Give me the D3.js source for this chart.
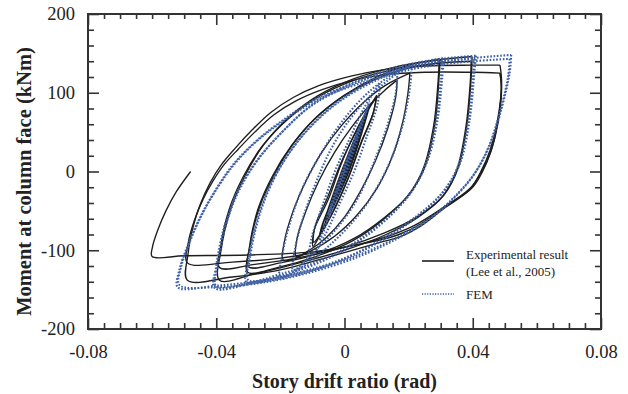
<!DOCTYPE html>
<html>
<head>
<meta charset="utf-8">
<script src="https://cdn.jsdelivr.net/npm/d3@7"></script>
<style>
  body { margin: 0; background: #fff; }
  svg { display: block; }
  text { font-family: "Liberation Serif", "Times New Roman", serif; fill: #222; }
</style>
</head>
<body>
<svg id="chart"></svg>
<script>
// axis ticks
var xTicks = [-0.08, -0.04, 0, 0.04, 0.08];
var yTicks = [-200, -100, 0, 100, 200];

// Experimental (Lee et al., 2005): cycles as [drift (rad), moment (kNm)]
var expSmall = [[0, 0], [0.004, 45], [0.0036, 38], [0, -3], [-0.004, -45], [-0.0036, -38], [0, 3], [0.006, 64], [0.0055, 56], [0, -6], [-0.006, -64], [-0.0055, -56], [0, 6], [0.0078, 82], [0.007, 72], [0, -10], [-0.0078, -80], [-0.007, -70], [0, 10], [0.0078, 84], [0.0072, 74], [0.001, -4], [-0.0075, -76], [-0.0068, -66], [0.0005, 8], [0.0075, 78]];
var exp10 = [[0.0101, 97], [0.009, 75], [0.005, 35], [0.001, -10], [-0.004, -55], [-0.0075, -80], [-0.0098, -95], [-0.0095, -75], [-0.005, -35], [-0.001, 10], [0.004, 55], [0.0075, 80], [0.0101, 97]];
var exp10b = [[0.0099, 94], [0.0088, 72], [0.0052, 36], [0.0014, -6], [-0.0035, -50], [-0.007, -76], [-0.0096, -90], [-0.0092, -70], [-0.0052, -32], [-0.0012, 10], [0.0038, 52], [0.0072, 77], [0.0099, 94]];
var exp15 = [[0.0164, 116], [0.016, 95], [0.0135, 55], [0.0095, 12], [0.005, -25], [0, -58], [-0.006, -85], [-0.011, -100], [-0.015, -108], [-0.0148, -85], [-0.012, -50], [-0.008, -12], [-0.003, 25], [0.002, 55], [0.008, 85], [0.0125, 103], [0.0164, 116]];
var exp20 = [[0.0204, 125], [0.0198, 100], [0.018, 60], [0.0145, 15], [0.01, -22], [0.004, -55], [-0.003, -82], [-0.011, -102], [-0.019, -113], [-0.0188, -90], [-0.016, -50], [-0.012, -12], [-0.007, 25], [-0.001, 58], [0.006, 88], [0.013, 110], [0.0204, 125]];
var exp30 = [[0.0298, 143], [0.0295, 120], [0.0282, 60], [0.025, 5], [0.02, -30], [0.012, -60], [0.003, -85], [-0.008, -104], [-0.02, -116], [-0.03, -121], [-0.0295, -95], [-0.0265, -45], [-0.022, -5], [-0.016, 35], [-0.009, 68], [0, 97], [0.01, 120], [0.02, 135], [0.0298, 143]];
var exp30b = [[0.0295, 138], [0.0292, 115], [0.0278, 58], [0.0245, 3], [0.0195, -32], [0.0115, -63], [0.0025, -88], [-0.009, -108], [-0.021, -122], [-0.0302, -128], [-0.0298, -100], [-0.027, -48], [-0.0225, -6], [-0.0165, 33], [-0.0095, 66], [-0.0005, 95], [0.0095, 117], [0.0195, 131], [0.0295, 138]];
var exp40 = [[0.0398, 146], [0.0396, 125], [0.0382, 60], [0.0355, 5], [0.031, -30], [0.023, -58], [0.013, -80], [0, -100], [-0.015, -117], [-0.028, -130], [-0.039, -138], [-0.0385, -100], [-0.0355, -48], [-0.031, -5], [-0.025, 35], [-0.017, 70], [-0.008, 97], [0.003, 118], [0.015, 132], [0.028, 141], [0.0398, 146]];
var exp40b = [[0.0395, 140], [0.0393, 118], [0.0378, 55], [0.035, 2], [0.0305, -32], [0.0225, -58], [0.0125, -78], [0, -96], [-0.015, -110], [-0.028, -118], [-0.039, -122], [-0.0386, -95], [-0.0358, -46], [-0.0315, -6], [-0.0255, 33], [-0.0175, 67], [-0.0085, 94], [0.0025, 115], [0.015, 129], [0.028, 137], [0.0395, 140]];
var exp50 = [[0.0485, 135], [0.049, 112], [0.0476, 62], [0.0454, 27], [0.0423, -2], [0.0391, -23], [0.0307, -48], [0.0235, -70], [0.0173, -83], [0.0111, -90], [-0.0045, -108], [-0.02, -125], [-0.035, -134], [-0.049, -138], [-0.0488, -105], [-0.0472, -70], [-0.045, -42], [-0.042, -15], [-0.0385, 8], [-0.034, 30], [-0.029, 52], [-0.023, 75], [-0.016, 94], [-0.008, 109], [0.002, 121], [0.012, 129], [0.025, 134], [0.04, 135], [0.0485, 135]];
var exp50b = [[0.0485, 125], [0.049, 105], [0.0478, 60], [0.0458, 27], [0.0428, -2], [0.0395, -22], [0.031, -45], [0.024, -66], [0.017, -80], [0.01, -88], [-0.005, -100], [-0.02, -110], [-0.035, -115], [-0.049, -116], [-0.0487, -90], [-0.0468, -62], [-0.0442, -36], [-0.041, -12], [-0.0375, 9], [-0.033, 29], [-0.028, 50], [-0.022, 72], [-0.015, 90], [-0.007, 104], [0.003, 116], [0.013, 123], [0.025, 126], [0.04, 126], [0.0485, 125]];
var expFinal = [[0.0485, 125], [0.0489, 105], [0.0477, 60], [0.0456, 25], [0.0425, -2], [0.039, -22], [0.03, -48], [0.022, -68], [0.015, -80], [0.005, -92], [-0.01, -102], [-0.03, -106], [-0.05, -107], [-0.06, -108], [-0.0599, -96], [-0.0582, -74], [-0.0557, -50], [-0.0525, -26], [-0.048, 0]];

// FEM: cycles as [drift (rad), moment (kNm)]
var femSmall = [[0, 0], [0.005, 58], [0.0045, 50], [0, -4], [-0.005, -58], [-0.0045, -50], [0, 4], [0.0078, 88], [0.007, 78], [0, -8], [-0.0078, -88], [-0.007, -78], [0, 8], [0.0075, 84]];
var fem10 = [[0.011, 112], [0.0103, 85], [0.007, 45], [0.003, 0], [-0.002, -45], [-0.006, -80], [-0.011, -112], [-0.0103, -85], [-0.007, -45], [-0.003, 0], [0.002, 45], [0.006, 80], [0.011, 112]];
var fem15 = [[0.0165, 125], [0.016, 100], [0.0135, 60], [0.0095, 15], [0.004, -35], [-0.002, -70], [-0.009, -100], [-0.016, -125], [-0.0155, -100], [-0.013, -60], [-0.009, -15], [-0.004, 30], [0.002, 68], [0.009, 100], [0.0165, 125]];
var fem20 = [[0.021, 135], [0.0205, 110], [0.0185, 65], [0.015, 20], [0.0095, -25], [0.003, -62], [-0.005, -95], [-0.012, -118], [-0.02, -134], [-0.0195, -108], [-0.017, -65], [-0.013, -20], [-0.007, 25], [-0.001, 62], [0.006, 95], [0.013, 118], [0.021, 135]];
var fem30 = [[0.031, 144], [0.0305, 120], [0.029, 65], [0.026, 15], [0.021, -25], [0.013, -60], [0.004, -88], [-0.007, -112], [-0.019, -129], [-0.03, -138], [-0.0295, -110], [-0.027, -62], [-0.023, -18], [-0.017, 25], [-0.01, 60], [-0.001, 92], [0.01, 118], [0.02, 134], [0.031, 144]];
var fem30b = [[0.0305, 140], [0.03, 116], [0.0285, 62], [0.0255, 12], [0.0205, -28], [0.0125, -63], [0.0035, -91], [-0.0075, -115], [-0.0195, -132], [-0.0305, -141], [-0.03, -113], [-0.0275, -65], [-0.0235, -20], [-0.0175, 22], [-0.0105, 57], [-0.0015, 89], [0.0095, 115], [0.0195, 131], [0.0305, 140]];
var fem40 = [[0.041, 147], [0.0405, 125], [0.039, 65], [0.036, 10], [0.031, -25], [0.023, -55], [0.012, -85], [0, -110], [-0.014, -128], [-0.028, -140], [-0.04, -146], [-0.0395, -118], [-0.037, -68], [-0.033, -25], [-0.027, 15], [-0.019, 52], [-0.01, 85], [0.001, 110], [0.014, 130], [0.028, 142], [0.041, 147]];
var fem40b = [[0.0405, 143], [0.04, 120], [0.0385, 62], [0.0355, 8], [0.0305, -27], [0.0225, -58], [0.0115, -88], [-0.0005, -112], [-0.0145, -131], [-0.0285, -142], [-0.0405, -148], [-0.04, -120], [-0.0375, -70], [-0.0335, -27], [-0.0275, 13], [-0.0195, 50], [-0.0105, 83], [0.0005, 107], [0.0135, 127], [0.0275, 139], [0.0405, 143]];
var fem50 = [[0.052, 148], [0.0515, 125], [0.049, 80], [0.0455, 35], [0.041, 0], [0.036, -25], [0.028, -55], [0.018, -80], [0.005, -105], [-0.01, -125], [-0.025, -138], [-0.04, -145], [-0.052, -147], [-0.0515, -125], [-0.049, -95], [-0.045, -58], [-0.04, -22], [-0.0345, 10], [-0.028, 37], [-0.021, 60], [-0.0086, 93], [0.0017, 110], [0.012, 124], [0.025, 136], [0.04, 144], [0.052, 148]];
var fem50b = [[0.0515, 143], [0.051, 120], [0.0485, 76], [0.045, 32], [0.0405, -3], [0.0355, -28], [0.0275, -58], [0.0175, -83], [0.0045, -108], [-0.0105, -128], [-0.0255, -141], [-0.0405, -147], [-0.0515, -144], [-0.051, -122], [-0.0485, -92], [-0.0445, -55], [-0.0395, -20], [-0.034, 11], [-0.0275, 38], [-0.0205, 60], [-0.008, 92], [0.002, 108], [0.0125, 121], [0.025, 133], [0.04, 140], [0.0515, 143]];

var expCycles = [expSmall, exp10, exp10b, exp15, exp20, exp30, exp30b, exp40, exp40b, exp50, exp50b, expFinal];
var femCycles = [femSmall, fem10, fem15, fem20, fem30, fem30b, fem40, fem40b, fem50, fem50b];

var W = 628, H = 394;
var margin = { top: 14, right: 27, bottom: 65, left: 88 },
  width = W - margin.left - margin.right,
  height = H - margin.top - margin.bottom;

var x = d3.scaleLinear().domain([-0.08, 0.08]).range([0, width]);
var y = d3.scaleLinear().domain([-200, 200]).range([height, 0]);

var svg = d3.select("#chart")
  .attr("width", W)
  .attr("height", H)
  .append("g").attr("transform", "translate(" + margin.left + "," + margin.top + ")");

var xMinor = d3.range(-0.08, 0.0801, 0.005).filter(function (d) { return xTicks.every(function (t) { return Math.abs(t - d) > 1e-9; }); });
var yMinor = d3.range(-200, 201, 20).filter(function (d) { return yTicks.indexOf(d) < 0; });

function styleAxis(g) {
  g.select(".domain").remove();
  g.selectAll("line").attr("stroke", "#333").attr("stroke-width", 1.6);
  g.selectAll("text").attr("font-size", 18.5).attr("fill", "#222")
    .attr("font-family", "'Liberation Serif', 'Times New Roman', serif");
}

// plain hyphen minus, as in the original figure
var fmtX = function (d) { return d === 0 ? "0" : d.toFixed(2); };
var fmtY = function (d) { return String(d); };

// bottom / top
svg.append("g").attr("transform", "translate(0," + height + ")")
  .call(d3.axisBottom(x).tickValues(xTicks).tickSize(-11).tickPadding(16).tickFormat(fmtX)).call(styleAxis);
svg.append("g").attr("transform", "translate(0," + height + ")")
  .call(d3.axisBottom(x).tickValues(xMinor).tickSize(-6).tickFormat("")).call(styleAxis);
svg.append("g")
  .call(d3.axisTop(x).tickValues(xTicks).tickSize(-11).tickFormat("")).call(styleAxis);
svg.append("g")
  .call(d3.axisTop(x).tickValues(xMinor).tickSize(-5).tickFormat("")).call(styleAxis);

// left / right
svg.append("g")
  .call(d3.axisLeft(y).tickValues(yTicks).tickSize(-11).tickPadding(13).tickFormat(fmtY)).call(styleAxis);
svg.append("g")
  .call(d3.axisLeft(y).tickValues(yMinor).tickSize(-6).tickFormat("")).call(styleAxis);
svg.append("g").attr("transform", "translate(" + width + ",0)")
  .call(d3.axisRight(y).tickValues(yTicks).tickSize(-11).tickFormat("")).call(styleAxis);
svg.append("g").attr("transform", "translate(" + width + ",0)")
  .call(d3.axisRight(y).tickValues(yMinor).tickSize(-6).tickFormat("")).call(styleAxis);

// frame
svg.append("rect")
  .attr("width", width).attr("height", height)
  .attr("fill", "none").attr("stroke", "#333").attr("stroke-width", 2);

var line = d3.line()
  .x(function (d) { return x(d[0]); })
  .y(function (d) { return y(d[1]); })
  .curve(d3.curveCatmullRom.alpha(0.5));

// experimental curves
svg.append("g").selectAll("path").data(expCycles).enter().append("path")
  .attr("d", line)
  .attr("fill", "none")
  .attr("stroke", "#1e1e1e")
  .attr("stroke-width", 1.35);

// FEM curves (dotted)
svg.append("g").selectAll("path").data(femCycles).enter().append("path")
  .attr("d", line)
  .attr("fill", "none")
  .attr("stroke", "#3d5fa3")
  .attr("stroke-width", 2.1)
  .attr("stroke-dasharray", "1.6,1.7");

// legend
var legend = svg.append("g").attr("transform", "translate(" + (422 - margin.left) + "," + (255 - margin.top) + ")");
legend.append("line").attr("x1", 0).attr("x2", 32).attr("y1", 6).attr("y2", 6)
  .attr("stroke", "#1e1e1e").attr("stroke-width", 1.6);
legend.append("text").attr("x", 44).attr("y", 4).attr("font-size", 13).text("Experimental result");
legend.append("text").attr("x", 44).attr("y", 21).attr("font-size", 13).text("(Lee et al., 2005)");
legend.append("line").attr("x1", 0).attr("x2", 32).attr("y1", 39).attr("y2", 39)
  .attr("stroke", "#3d5fa3").attr("stroke-width", 1.5).attr("stroke-dasharray", "1.2,1.4");
legend.append("text").attr("x", 44).attr("y", 44).attr("font-size", 13).text("FEM");

// text label for the x axis
svg.append("text")
  .attr("x", width / 2)
  .attr("y", height + 59)
  .attr("text-anchor", "middle")
  .attr("font-size", 20)
  .attr("font-weight", "bold")
  .text("Story drift ratio (rad)");

// text label for the y axis
svg.append("text")
  .attr("transform", "translate(" + (31 - margin.left) + "," + (height / 2 + 10) + ") rotate(-90)")
  .attr("text-anchor", "middle")
  .attr("font-size", 20.5)
  .attr("font-weight", "bold")
  .text("Moment at column face (kNm)");
</script>
</body>
</html>
